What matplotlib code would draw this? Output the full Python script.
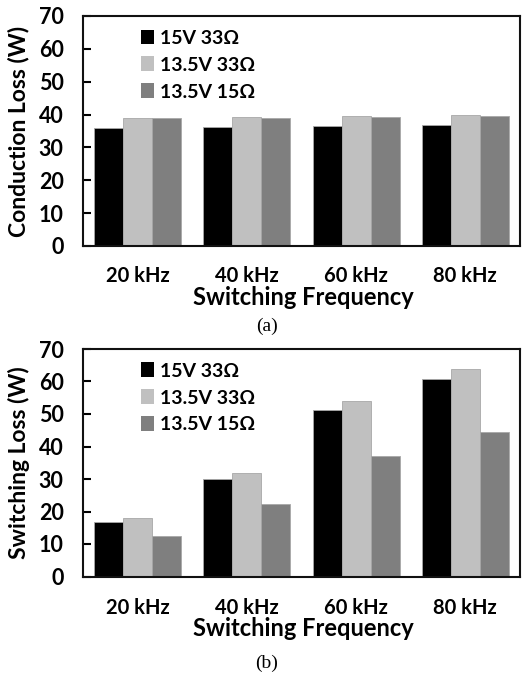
import matplotlib
matplotlib.use("Agg")
import matplotlib.pyplot as plt
import numpy as np
from matplotlib.patches import Patch

W, H = 522, 677
DPI = 100

categories = ["20 kHz", "40 kHz", "60 kHz", "80 kHz"]
series_names = ["15V 33Ω", "13.5V 33Ω", "13.5V 15Ω"]
colors = ["#000000", "#c0c0c0", "#7f7f7f"]

conduction_15v_33 = [36.0, 36.2, 36.6, 36.9]
conduction_135v_33 = [39.0, 39.3, 39.7, 40.0]
conduction_135v_15 = [39.0, 39.0, 39.4, 39.7]

switching_15v_33 = [16.9, 30.1, 51.2, 60.9]
switching_135v_33 = [17.9, 31.8, 53.9, 63.8]
switching_135v_15 = [12.5, 22.2, 37.2, 44.5]

FONT = "Lato"
BAR_W = 0.265


def px_rect(left, top, right, bottom):
    return [left / W, 1 - bottom / H, (right - left) / W, (bottom - top) / H]


def draw_panel(fig, rect, series, ylabel, xlabel_y, ticks_y, tag, tag_y):
    ax = fig.add_axes(rect)
    x = np.arange(len(categories))
    for i, (vals, col) in enumerate(zip(series, colors)):
        ax.bar(x + (i - 1) * BAR_W, vals, BAR_W, color=col,
               edgecolor="#a8a8a8", linewidth=0.6, label=series_names[i])
    ax.set_xlim(-0.5, len(categories) - 0.5)
    ax.set_ylim(0, 70)
    ax.set_yticks(range(0, 71, 10))
    ax.set_xticks(x)
    ax.set_xticklabels([])
    ax.tick_params(axis="x", length=0)
    ax.tick_params(axis="y", direction="in", length=6, width=1.5, pad=14,
                   labelsize=15.5)
    for lab in ax.get_yticklabels():
        lab.set_fontfamily(FONT)
        lab.set_fontweight("bold")
    for sp in ax.spines.values():
        sp.set_linewidth(1.5)
        sp.set_color("#111111")

    # category labels and axis labels placed in figure pixels
    for xi, cat in zip(x, categories):
        fx = ax.transData.transform((xi, 0))[0] / W
        fig.text(fx, 1 - ticks_y / H, cat, ha="center", va="center",
                 fontsize=14.5, fontweight="bold", family=FONT)
    fig.text(303 / W, 1 - xlabel_y / H, "Switching Frequency", ha="center",
             va="center", fontsize=17, fontweight="bold", family=FONT)
    bbox = ax.get_position()
    fig.text(19 / W, bbox.y0 + bbox.height / 2, ylabel, rotation=90,
             ha="center", va="center", fontsize=16.5, fontweight="bold",
             family=FONT)
    fig.text(267 / W, 1 - tag_y / H, tag, ha="center", va="center",
             fontsize=14, family="Liberation Serif")

    handles = [Patch(facecolor=c, edgecolor="none") for c in colors]
    ax.legend(handles, series_names, loc="upper left",
              bbox_to_anchor=(0.115, 0.975), frameon=False,
              handlelength=0.65, handleheight=0.8, handletextpad=0.3,
              labelspacing=0.5, borderaxespad=0,
              prop={"family": FONT, "weight": "bold", "size": 14})
    return ax


def main() -> None:
    fig = plt.figure(figsize=(W / DPI, H / DPI), dpi=DPI)

    draw_panel(fig, px_rect(83, 16, 520, 246),
               [conduction_15v_33, conduction_135v_33, conduction_135v_15],
               "Conduction Loss (W)", 298, 276, "(a)", 326)
    draw_panel(fig, px_rect(83, 349, 520, 576.5),
               [switching_15v_33, switching_135v_33, switching_135v_15],
               "Switching Loss (W)", 629, 608, "(b)", 663)

    fig.savefig("out.png", dpi=DPI)


if __name__ == "__main__":
    main()
